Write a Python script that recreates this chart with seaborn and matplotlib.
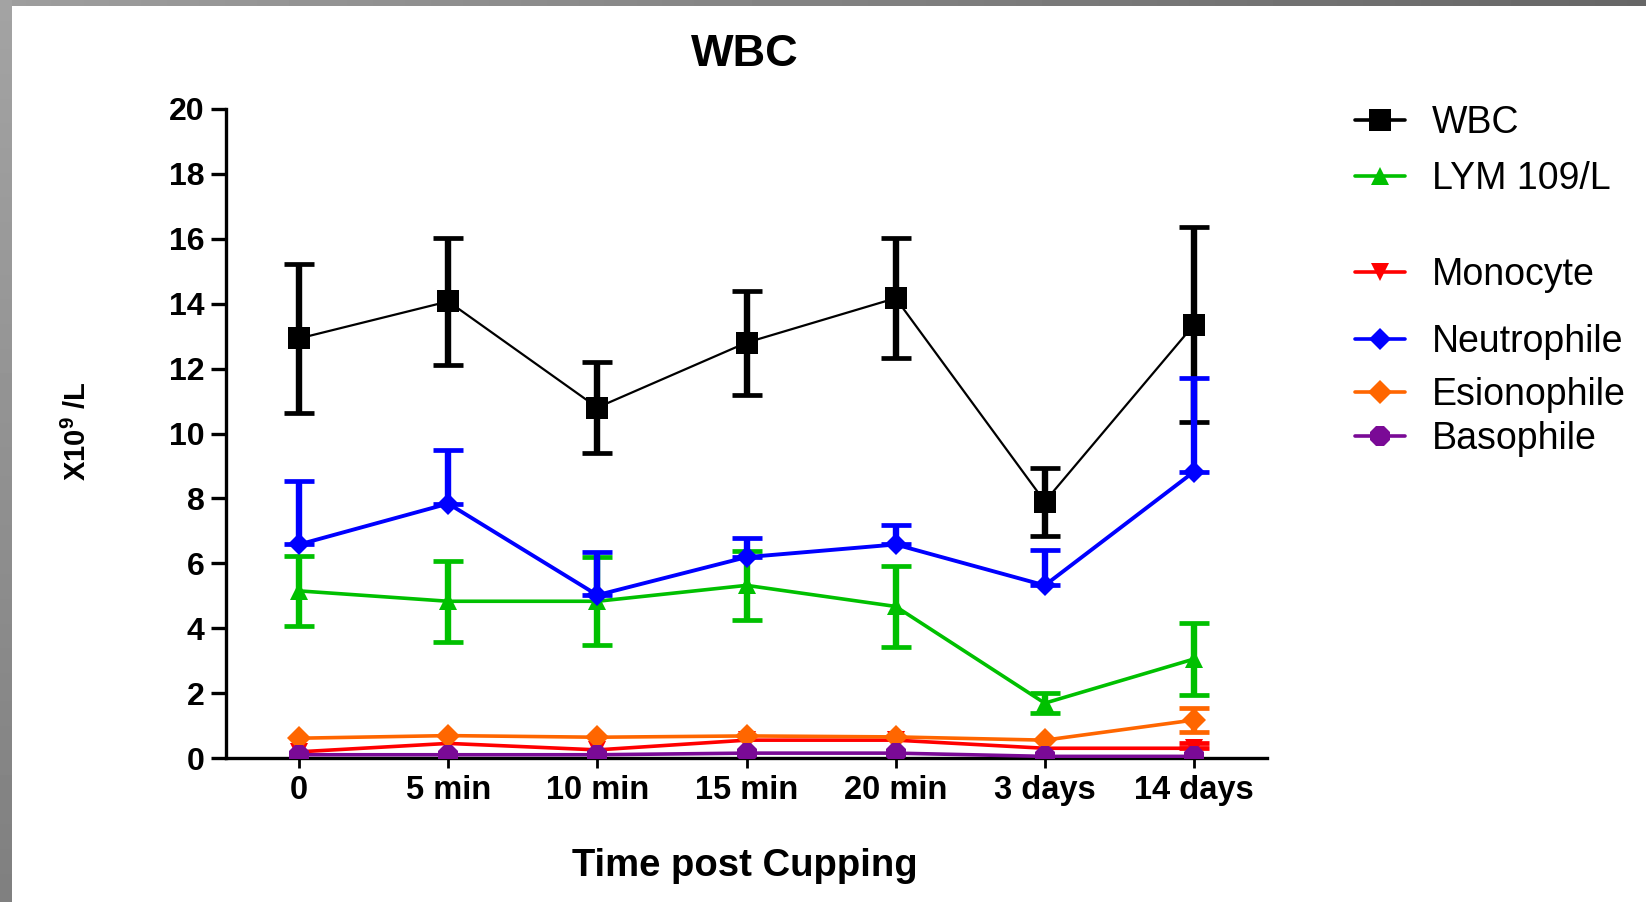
import numpy as np
import pandas as pd
import matplotlib
matplotlib.use("Agg")
import matplotlib.pyplot as plt
from matplotlib.lines import Line2D
import seaborn as sns

# ---- data -------------------------------------------------------------
times = ["0", "5 min", "10 min", "15 min", "20 min", "3 days", "14 days"]

wbc = [12.93, 14.07, 10.80, 12.80, 14.17, 7.90, 13.35]
wbc_err = [2.30, 1.95, 1.40, 1.60, 1.85, 1.05, 3.00]

lym = [5.15, 4.83, 4.83, 5.32, 4.67, 1.69, 3.05]
lym_err = [1.07, 1.25, 1.35, 1.07, 1.25, 0.30, 1.10]

mono = [0.19, 0.45, 0.25, 0.55, 0.55, 0.30, 0.30]
mono_err = [0.0, 0.0, 0.0, 0.0, 0.0, 0.0, 0.17]

neut = [6.58, 7.84, 5.02, 6.19, 6.58, 5.32, 8.82]
neut_err = [1.95, 1.65, 1.33, 0.60, 0.60, 1.10, 2.90]

esio = [0.61, 0.69, 0.64, 0.68, 0.65, 0.55, 1.17]
esio_err = [0.0, 0.0, 0.0, 0.0, 0.0, 0.0, 0.36]

baso = [0.10, 0.10, 0.10, 0.15, 0.15, 0.05, 0.05]

y_ticks = list(range(0, 21, 2))

# ---- styling ----------------------------------------------------------
sns.set_theme(style="ticks")
plt.rcParams["font.family"] = ["Liberation Sans", "DejaVu Sans"]
plt.rcParams["mathtext.fontset"] = "custom"
plt.rcParams["mathtext.rm"] = "Liberation Sans"
plt.rcParams["mathtext.bf"] = "Liberation Sans:bold"
plt.rcParams["text.color"] = "black"
plt.rcParams["axes.labelcolor"] = "black"

W, H, DPI = 1646, 902, 100
fig = plt.figure(figsize=(W / DPI, H / DPI), dpi=DPI, facecolor="white")

# slide frame: grey gradient strips along the top and left edges
top_ax = fig.add_axes([0, 1 - 6 / H, 1, 6 / H])
top_ax.imshow(np.linspace(0.62, 0.40, 256)[None, :], cmap="gray", vmin=0, vmax=1,
              aspect="auto", extent=(0, 1, 0, 1))
top_ax.axis("off")
left_ax = fig.add_axes([0, 0, 12 / W, 1])
left_ax.imshow(np.linspace(0.50, 0.64, 256)[:, None], cmap="gray", vmin=0, vmax=1,
               aspect="auto", extent=(0, 1, 0, 1), origin="lower")
left_ax.axis("off")

ax = fig.add_axes([226 / W, 1 - 758 / H, (1267 - 226) / W, (758 - 109) / H])

x = np.arange(len(times))

series = [
    # name, values, error, colour, marker, markersize, linewidth, both-sided error
    ("WBC", wbc, wbc_err, "#000000", "s", 16, 1.6, True),
    ("LYM 109/L", lym, lym_err, "#00c000", "^", 13, 2.6, True),
    ("Monocyte", mono, mono_err, "#ff0000", "v", 13, 2.6, False),
    ("Neutrophile", neut, neut_err, "#0000ff", "D", 11.5, 2.8, False),
    ("Esionophile", esio, esio_err, "#ff6600", "D", 12, 2.6, True),
    ("Basophile", baso, None, "#7a0a96", "8", 16, 2.6, True),
]

frames = []
for name, vals, *_ in series:
    frames.append(pd.DataFrame({"pos": x, "value": vals, "series": name}))
df = pd.concat(frames, ignore_index=True)

z = 3
for name, vals, err, col, mk, ms, lw, both in series:
    sub = df[df["series"] == name]
    if err is not None:
        err = np.asarray(err)
        lower = err if both else np.zeros_like(err)
        mask = err > 0
        ax.errorbar(x[mask], np.asarray(vals)[mask],
                    yerr=[lower[mask], err[mask]], fmt="none", ecolor=col,
                    elinewidth=4.6, capsize=10.5, capthick=3.4, zorder=z)
    sns.lineplot(data=sub, x="pos", y="value", ax=ax, color=col, marker=mk,
                 markersize=ms, markeredgewidth=0, linewidth=lw,
                 estimator=None, legend=False, zorder=z + 0.5)
    z += 1

ax.set_xlim(-0.49, 6.49)
ax.set_ylim(0, 20)
ax.set_yticks(y_ticks)
ax.set_xticks(x)
ax.set_xticklabels(times)
ax.set_xlabel("")
ax.set_ylabel("")
sns.despine(ax=ax)
for side in ("left", "bottom"):
    ax.spines[side].set_linewidth(2.4)
    ax.spines[side].set_color("black")
ax.tick_params(axis="y", length=10.5, width=2.4, pad=5, labelsize=23,
               colors="black")
ax.tick_params(axis="x", length=7, width=2.0, pad=5, labelsize=23.5,
               colors="black")
for lab in ax.get_xticklabels() + ax.get_yticklabels():
    lab.set_fontweight("bold")

# titles and axis labels
fig.text(745 / W, 1 - 54 / H, "WBC", ha="center", va="center",
         fontsize=32.5, fontweight="bold")
fig.text(745 / W, 1 - 866 / H, "Time post Cupping", ha="center", va="center",
         fontsize=27.5, fontweight="bold")
fig.text(77 / W, 1 - 431 / H, r"X10$^{\mathbf{9}}$ /L", ha="center",
         va="center", rotation=90, fontsize=21, fontweight="bold")

# legend, one entry per row
legend_rows = [123, 179, 275, 342, 395, 439]
for (name, vals, err, col, mk, ms, lw, both), yrow in zip(series, legend_rows):
    h = Line2D([0], [0], color=col, marker=mk, markersize=ms,
               markeredgewidth=0, linewidth=2.6)
    leg = fig.legend(handles=[h], labels=[name], loc="center left",
                     bbox_to_anchor=(1355 / W, 1 - yrow / H), frameon=False,
                     fontsize=27, handlelength=1.32, handletextpad=0.72,
                     borderpad=0, borderaxespad=0)

fig.savefig("out.png", dpi=DPI, facecolor="white")
